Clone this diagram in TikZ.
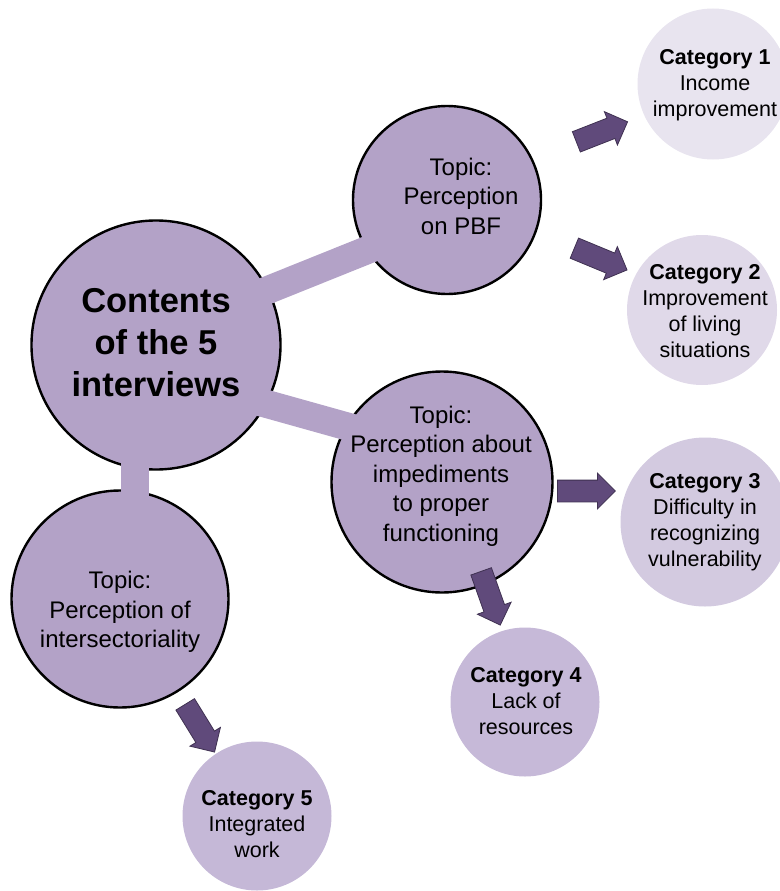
\documentclass[tikz,border=0pt]{standalone}
\usepackage{fontspec}
\setmainfont{Liberation Sans}
\usetikzlibrary{shapes.arrows}

\definecolor{topicfill}{HTML}{B3A2C7}
\definecolor{catone}{HTML}{E8E4EF}
\definecolor{cattwo}{HTML}{E0D9E9}
\definecolor{catthree}{HTML}{D3CAE0}
\definecolor{catfour}{HTML}{C6B9D8}
\definecolor{catfive}{HTML}{C5B8D7}
\definecolor{arrowfill}{HTML}{604A7B}
\definecolor{arrowline}{HTML}{3F3151}

\tikzset{
  bubble/.style={circle, inner sep=0pt, fill=topicfill, draw=black, line width=2.4pt},
  catbubble/.style={circle, inner sep=0pt},
  bar/.style={draw=topicfill, line width=28pt, line cap=butt},
  maintext/.style={align=center, font=\fontsize{34.5}{42}\selectfont\bfseries, inner sep=0pt},
  topictext/.style={align=center, font=\fontsize{24}{29.5}\selectfont, inner sep=0pt},
  cattext/.style={align=center, font=\fontsize{21.5}{26}\selectfont, inner sep=0pt},
  blockarrow/.style={single arrow, fill=arrowfill, draw=arrowline, line width=0.8pt,
    inner xsep=0pt, inner ysep=10.5pt, single arrow head extend=7pt,
    single arrow head indent=0pt, anchor=tail},
}

\begin{document}
\begin{tikzpicture}[x=1pt, y=-1pt]
  \useasboundingbox (0,0) rectangle (779,891);

  % category bubbles (no outline)
  \node[catbubble, fill=catone,   minimum size=151pt] (c1) at (713,84)  {};
  \node[catbubble, fill=cattwo,   minimum size=150pt] (c2) at (702,310) {};
  \node[catbubble, fill=catthree, minimum size=169pt] (c3) at (705,522) {};
  \node[catbubble, fill=catfour,  minimum size=149pt] (c4) at (525,702) {};
  \node[catbubble, fill=catfive,  minimum size=149pt] (c5) at (257,816) {};

  % central and topic bubbles
  \node[bubble, minimum size=249pt] (main) at (156,345) {};
  \node[bubble, minimum size=188pt] (pbf)  at (447,200) {};
  \node[bubble, minimum size=221pt] (imp)  at (442,482) {};
  \node[bubble, minimum size=217pt] (inter) at (120,599) {};

  % bars joining the centre to the topics
  \coordinate (b1s) at (156,335);
  \coordinate (b1e) at (447,218);
  \coordinate (b2s) at (156,373);
  \coordinate (b2e) at (442,453);
  \coordinate (b3s) at (135,345);
  \coordinate (b3e) at (135,600);
  \draw[bar] (b1s) -- (b1e);
  \draw[bar] (b2s) -- (b2e);
  \draw[bar] (b3s) -- (b3e);

  % texts
  \node[maintext] (main-t) at (156,343) {Contents\\of the 5\\interviews};
  \node[topictext] (pbf-t) at (461,196) {Topic:\\Perception\\on PBF};
  \node[topictext] (imp-t) at (441,476) {Topic:\\Perception about\\impediments\\to proper\\functioning};
  \node[topictext] (inter-t) at (120,612) {Topic:\\Perception of\\intersectoriality};

  \node[cattext] (c1-t) at (715,85)  {\textbf{Category 1}\\Income\\improvement};
  \node[cattext] (c2-t) at (705,311) {\textbf{Category 2}\\Improvement\\of living\\situations};
  \node[cattext] (c3-t) at (705,522) {\textbf{Category 3}\\Difficulty in\\recognizing\\vulnerability};
  \node[cattext] (c4-t) at (526,701) {\textbf{Category 4}\\Lack of\\resources};
  \node[cattext] (c5-t) at (257,824) {\textbf{Category 5}\\Integrated\\work};

  % block arrows from topics to categories
  \node[blockarrow, minimum height=55pt, rotate=21.4]  (a1) at (576,142) {};
  \node[blockarrow, minimum height=57pt, rotate=-22.5] (a2) at (574,248) {};
  \node[blockarrow, minimum height=58pt]               (a3) at (557,491) {};
  \node[blockarrow, minimum height=57pt, rotate=-70.4] (a4) at (481,571) {};
  \node[blockarrow, minimum height=56pt, rotate=-58.4] (a5) at (185,704) {};
\end{tikzpicture}
\end{document}
